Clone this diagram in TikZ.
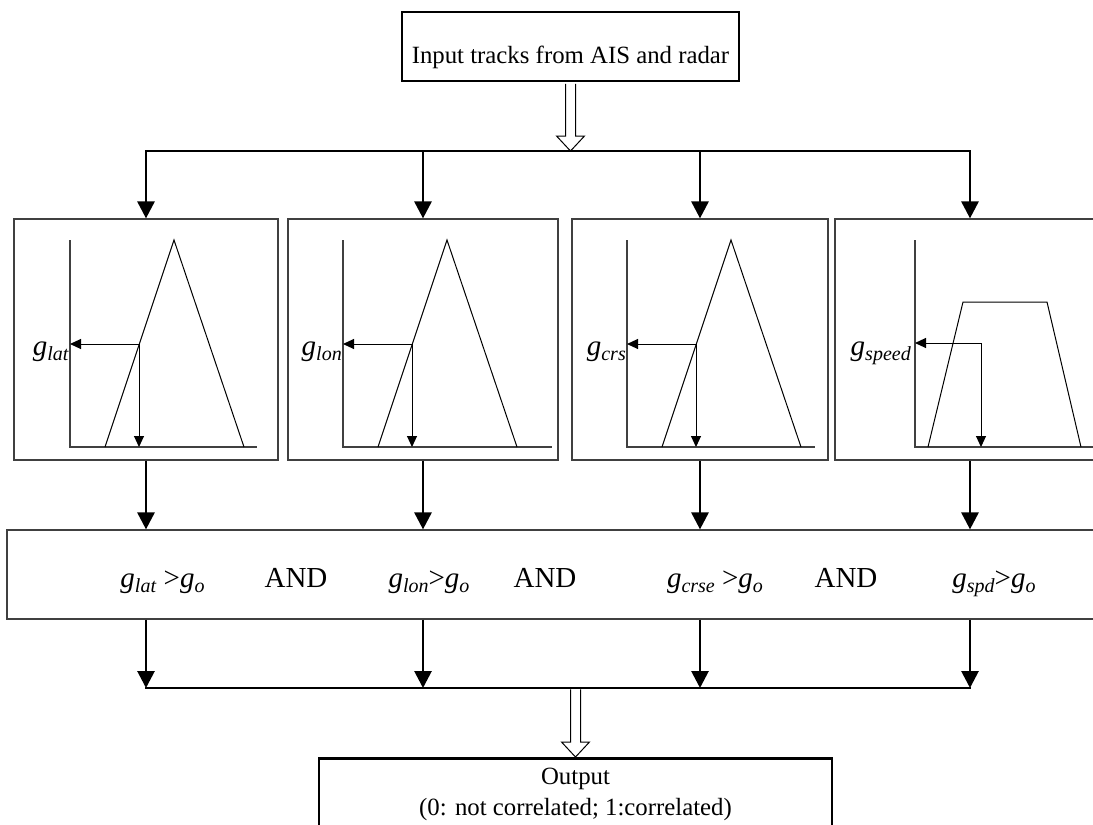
\documentclass[tikz,border=0pt]{standalone}
\usepackage{fontspec}
\setmainfont{Liberation Serif}
\usepackage{tikz}
\usetikzlibrary{arrows.meta,calc}

\newcommand{\gsub}[1]{\textit{g}\raisebox{-5pt}{\fontsize{20}{20}\selectfont\textit{#1}}}

\begin{document}
\begin{tikzpicture}[x=1pt, y=-1pt,
    every node/.style={font=\fontsize{24.8}{31}\selectfont},
    thickbox/.style={draw, line width=2.8pt, inner xsep=0pt},
    panel/.style={draw=black!75, line width=1.2pt, minimum height=241pt, inner sep=0pt},
    gatebox/.style={draw=black!75, line width=1.2pt, minimum width=1098pt, minimum height=89pt, inner sep=0pt},
    flow/.style={line width=2.8pt, -{Triangle[length=17pt,width=17pt]}},
    bus/.style={line width=2.8pt, line cap=rect},
    hollow/.style={draw, line width=1pt, fill=white},
    axisline/.style={draw=black!75, line width=1.2pt},
    mfline/.style={line width=1pt},
    pick/.style={line width=1pt, -{Triangle[length=11pt,width=10pt]}},
    cond/.style={font=\fontsize{29}{35}\selectfont, anchor=base, inner sep=0pt},
    glabel/.style={font=\fontsize{29}{35}\selectfont, anchor=base east, inner sep=0pt}
]
\useasboundingbox (0,0) rectangle (1093,825);
\clip (0,0) rectangle (1093,825);

% Input
\node[thickbox, minimum width=337pt, minimum height=69pt, text height=33pt, text depth=0pt] (src) at (570.5,46.5) {Input tracks from AIS and radar};

% Membership panels
\node[panel, minimum width=264pt] (p1) at (146,339.5) {};
\node[panel, minimum width=270pt] (p2) at (423,339.5) {};
\node[panel, minimum width=256pt] (p3) at (700,339.5) {};
\node[panel, minimum width=270pt] (p4) at (970,339.5) {};

% Split to the four panels
\coordinate (split) at (570.5,151);
\draw[hollow] ($(src.south)+(-5,1.4)$) -- ($(split)+(-5,-15)$) -- ($(split)+(-14,-15)$) -- (split)
    -- ($(split)+(14,-15)$) -- ($(split)+(5,-15)$) -- ($(src.south)+(5,1.4)$);
\draw[bus] (p1.north |- split) -- (p4.north |- split);
\foreach \p in {p1,p2,p3,p4}
    \draw[flow] (\p.north |- split) -- (\p.north);

% Triangular functions
\foreach \ax/\xe/\lab in {70/257/lat, 343/552/lon, 627/815/crs} {
    \draw[axisline] (\ax,240) |- (\xe,447);
    \draw[mfline] (\ax+35,447) -- (\ax+104,240) -- (\ax+174,447);
    \draw[pick] (\ax+69,344) -- (\ax,344);
    \draw[pick] (\ax+69,344) -- (\ax+69,447);
    \node[glabel] (g-\lab) at (\ax-1,355) {\gsub{\lab}};
}

% Trapezoid function (speed)
\draw[axisline] (915,240) |- (1100,447);
\draw[mfline] (928,447) -- (963,302) -- (1047,302) -- (1081,447);
\draw[pick] (981,343) -- (915,343);
\draw[pick] (981,343) -- (981,447);
\node[glabel] (g-speed) at (911,355) {\gsub{speed}};

% Conditions
\node[gatebox] (gate) at (556,574.5) {};
\foreach \p in {p1,p2,p3,p4}
    \draw[flow] (\p.south) -- (\p.south |- gate.north);
\node[cond] (c1) at (162.5,587) {\gsub{lat} >\gsub{o}};
\node[cond] (and1) at (296,587) {AND};
\node[cond] (c2) at (429,587) {\gsub{lon}>\gsub{o}};
\node[cond] (and2) at (545,587) {AND};
\node[cond] (c3) at (715,587) {\gsub{crse} >\gsub{o}};
\node[cond] (and3) at (846,587) {AND};
\node[cond] (c4) at (994,587) {\gsub{spd}>\gsub{o}};

% Merge
\coordinate (merge) at (575.5,688);
\foreach \p in {p1,p2,p3,p4}
    \draw[flow] (\p.south |- gate.south) -- (\p.south |- merge);
\draw[bus] (p1.south |- merge) -- (p4.south |- merge);

% Output
\node[thickbox, anchor=north, minimum width=513pt, align=center, inner ysep=10pt] (out) at (575.5,757) {Output\\(0: not correlated; 1:correlated)};
\draw[hollow] ($(merge)+(-5,1.4)$) -- ($(out.north)+(-5,-15)$) -- ($(out.north)+(-14,-15)$) -- (out.north)
    -- ($(out.north)+(14,-15)$) -- ($(out.north)+(5,-15)$) -- ($(merge)+(5,1.4)$);

\end{tikzpicture}
\end{document}
